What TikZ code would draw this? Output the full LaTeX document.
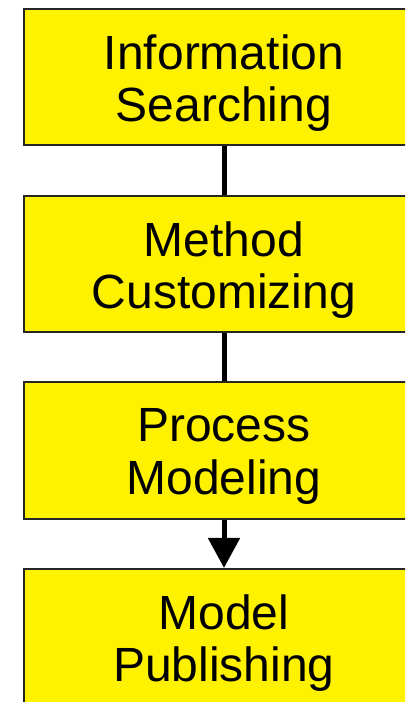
\documentclass[tikz,border=0pt]{standalone}
\usepackage{fontspec}
\setmainfont{Liberation Sans}
\usetikzlibrary{arrows.meta}
\begin{document}
\begin{tikzpicture}[x=1pt,y=1pt,
  stage/.style={draw=black!85, line width=2pt, fill=yellow, minimum width=401pt, minimum height=136.5pt,
    inner sep=0pt},
  stagetext/.style={inner sep=0pt, align=center, font=\fontsize{48}{52.5}\selectfont},
  link/.style={line width=5pt, black},
  arrowlink/.style={link, -{Triangle[width=31pt,length=30pt]}}]
\useasboundingbox (0,0) rectangle (405,-702);
\clip (0,0) rectangle (405,-702);
\node[stage] (a) at (224,-77.2) {};
\node[stage] (b) at (224,-264) {};
\node[stage] (c) at (224,-450.7) {};
\node[stage] (d) at (224,-637.2) {};
\node[stagetext] (ta) at ([yshift=-6pt]a.center) {Information\\Searching};
\node[stagetext] (tb) at ([yshift=-6pt]b.center) {Method\\Customizing};
\node[stagetext] (tc) at ([yshift=-6pt]c.center) {Process\\Modeling};
\node[stagetext] (td) at ([yshift=-6pt]d.center) {Model\\Publishing};
\draw[link] (a) -- (b);
\draw[link] (b) -- (c);
\draw[arrowlink] (c) -- (d);
\end{tikzpicture}
\end{document}
